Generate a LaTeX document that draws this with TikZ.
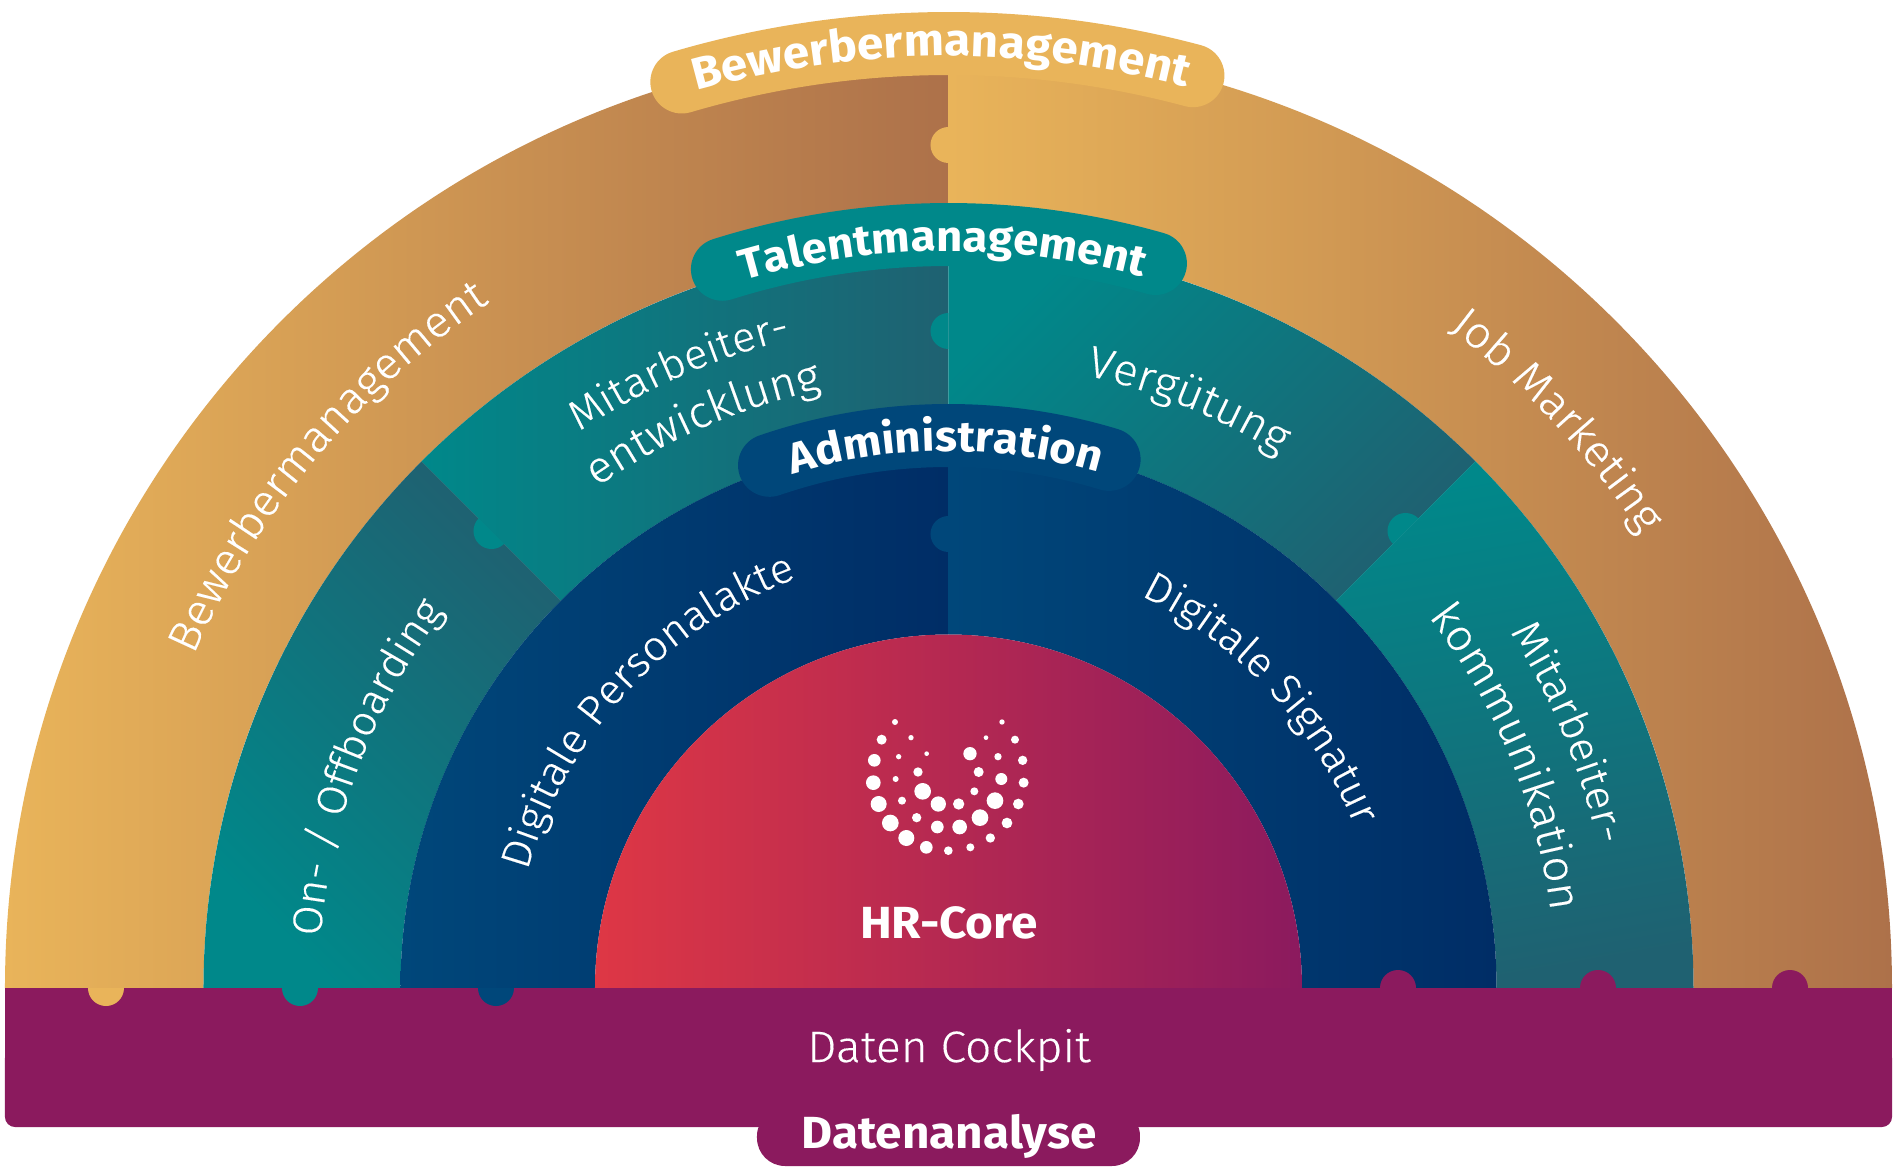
\documentclass[tikz,border=0pt]{standalone}
\usepackage{fontspec}
\setmainfont{Fira Sans}
\newfontfamily\lightfont[FakeStretch=1.05,FakeBold=0.3]{Fira Sans Light}
\newfontfamily\wideboldfont[FakeStretch=1.06]{Fira Sans}
\usetikzlibrary{decorations.text,calc}
\definecolor{gold}{HTML}{E9B45A}
\definecolor{brown}{HTML}{AD714A}
\definecolor{teal}{HTML}{00888A}
\definecolor{slate}{HTML}{1F6171}
\definecolor{navyA}{HTML}{00477A}
\definecolor{navyB}{HTML}{002D66}
\definecolor{coreA}{HTML}{DE3745}
\definecolor{plum}{HTML}{8B1A5E}
\newcommand{\segfont}{\lightfont\fontsize{44pt}{44pt}\selectfont}
\newcommand{\segfontsmall}{\lightfont\fontsize{41.5pt}{41.5pt}\selectfont}
\newcommand{\pillfont}{\wideboldfont\bfseries\fontsize{45pt}{45pt}\selectfont}
\newcommand{\pillfontsmall}{\wideboldfont\bfseries\fontsize{43pt}{43pt}\selectfont}
% annular sector: inner r, outer r, start angle, end angle
\newcommand{\ringsector}[5]{\path[#5] (#3:#1pt) -- (#3:#2pt) arc[start angle=#3,end angle=#4,radius=#2pt] -- (#4:#1pt) arc[start angle=#4,end angle=#3,radius=#1pt] -- cycle;}
% half-round puzzle tab at x,y pointing in direction dir
\newcommand{\puzzletab}[4]{\pgfmathsetmacro{\tabA}{#3+90}\pgfmathsetmacro{\tabB}{#3-90}%
 \fill[#4] ($(#1pt,#2pt)+(\tabA:18pt)$) arc[start angle=\tabA,end angle=\tabB,radius=18pt] -- cycle;}
% text along a clockwise arc: radius, centre angle, half span, font, text
\newcommand{\arctext}[5]{\pgfmathsetmacro{\arcS}{#2+#3}\pgfmathsetmacro{\arcE}{#2-#3}%
 \path[decorate,decoration={text along path,text align=center,text={|#4|#5}}] (\arcS:#1pt) arc[start angle=\arcS,end angle=\arcE,radius=#1pt];}
\tikzset{
 pill/.style={line cap=round,line width=63pt},
}
\begin{document}
\begin{tikzpicture}[x=1pt,y=1pt]
\useasboundingbox (-948.5,-183) rectangle (947.5,988);
\fill[white] (-948.5,-183) rectangle (947.5,988);
% outer ring
\ringsector{745}{943.5}{90}{180}{left color=gold,right color=brown}
\ringsector{745}{943.5}{0}{90}{left color=gold,right color=brown}
% middle ring
\ringsector{548}{745}{135}{180}{top color=teal,bottom color=slate,shading angle=135}
\ringsector{548}{745}{90}{135}{top color=teal,bottom color=slate,shading angle=90}
\ringsector{548}{745}{45}{90}{top color=teal,bottom color=slate,shading angle=45}
\ringsector{548}{745}{0}{45}{top color=teal,bottom color=slate,shading angle=10}
% inner ring
\ringsector{353.5}{548}{90}{180}{left color=navyA,right color=navyB}
\ringsector{353.5}{548}{0}{90}{left color=navyA,right color=navyB}
% core
\shade[left color=coreA,right color=plum] (-353.5,0) arc[start angle=180,end angle=0,radius=353.5pt] -- cycle;
% puzzle tabs
\puzzletab{0}{843}{180}{gold}
\puzzletab{0}{657}{180}{teal}
\puzzletab{0}{454}{180}{navyA}
\puzzletab{-457}{457}{225}{teal}
\puzzletab{457}{457}{135}{teal}
% pills
\draw[pill,gold] (106.4:944.5pt) arc[start angle=106.4,end angle=75,radius=944.5pt];
\draw[pill,teal] (107.46:753.5pt) arc[start angle=107.46,end angle=74.06,radius=753.5pt];
\draw[pill,navyA] (108.9:552.5pt) arc[start angle=108.9,end angle=73.1,radius=552.5pt];
% data bar
\fill[plum] (-943.5,0) rectangle (943.5,-100);
\fill[plum,rounded corners=10pt] (-943.5,-60) rectangle (943.5,-139);
\fill[plum,rounded corners=28pt] (-191.5,-120) rectangle (191.5,-178);
\fill[plum] (-191.5,-100) rectangle (191.5,-139);
% bar tabs
\puzzletab{-842.5}{0}{270}{gold}
\puzzletab{-648.5}{0}{270}{teal}
\puzzletab{-452.5}{0}{270}{navyA}
\puzzletab{449.5}{0}{90}{plum}
\puzzletab{649.5}{0}{90}{plum}
\puzzletab{841.5}{0}{90}{plum}
% logo
\foreach \zx/\zy/\zr in {345/126/9,666/126/8,305/179/15,393/173/8,618/173/7,705/179/12,283/241/19,356/230/8,440/221/7,570/221/20,654/230/11,728/241/14,414/276/14,596/276/15,280/308/22,347/297/9,664/297/18,731/308/15,428/334/25,583/334/12,296/372/24,366/362/12,475/372/23,536/372/17,645/362/25,715/372/16,331/429/25,410/413/14,600/413/25,681/429/16,472/441/19,539/441/22,379/474/24,631/474/14,439/502/19,571/502/12,505/512/13}
 \fill[white] ({780+\zx/3-948.5},{988-680-\zy/3}) circle[radius=\zr/3];
% pill labels
\arctext{932}{90.45}{25}{\color{white}\pillfont}{Bewerbermanagement}
\arctext{737}{90.45}{25}{\color{white}\pillfontsmall}{Talentmanagement}
\arctext{537}{90.3}{30}{\color{white}\pillfontsmall}{Administration}
% segment labels
\arctext{825}{140}{30}{\color{white}\segfont}{Bewerbermanagement}
\arctext{828}{43}{25}{\color{white}\segfont}{Job Marketing}
\arctext{630}{159.3}{25}{\color{white}\segfontsmall}{On- / Offboarding}
\arctext{668}{113.6}{20}{\color{white}\segfontsmall}{Mitarbeiter-}
\arctext{612}{113.5}{20}{\color{white}\segfont}{entwicklung}
\arctext{628}{67.8}{20}{\color{white}\segfont}{Vergütung}
\arctext{665}{22.4}{22}{\color{white}\segfontsmall}{Mitarbeiter-}
\arctext{607}{22.5}{22}{\color{white}\segfont}{kommunikation}
\arctext{437}{137.4}{40}{\color{white}\segfontsmall}{Digitale Personalakte}
\arctext{437}{42.85}{35}{\color{white}\segfontsmall}{Digitale Signatur}
% straight labels
\node[text=white,font=\pillfont] (core) at (0.5,65) {HR-Core};
\node[text=white,font=\segfont] (cockpit) at (0.5,-62) {Daten Cockpit};
\node[text=white,font=\pillfont] (analyse) at (0.5,-148) {Datenanalyse};
\end{tikzpicture}
\end{document}
